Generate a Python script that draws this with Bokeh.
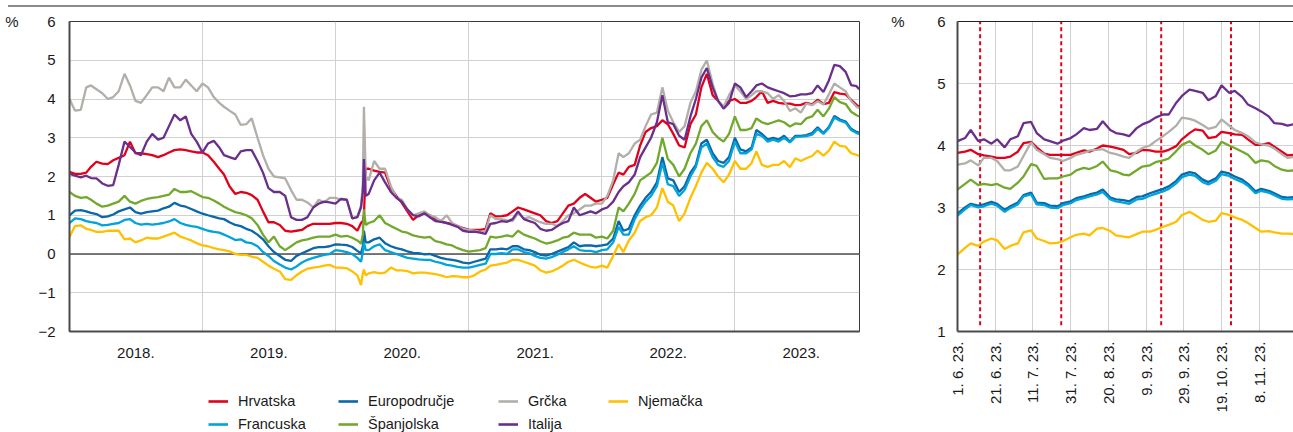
import math
import pandas as pd
from bokeh.plotting import figure
from bokeh.models import (FixedTicker, LinearAxis, Legend, LegendItem,
                          Span, Div, Range1d)
from bokeh.layouts import row, column
from bokeh.embed import file_html
from bokeh.resources import INLINE

# ------------------------------------------------------------------ data
def semi_monthly(y0, y1):
    return [f"{y}-{m:02d}-{d:02d}" for y in range(y0, y1 + 1)
            for m in range(1, 13) for d in (1, 16)]

# overview: 1st and 16th of each month, plus a few days around March 2020, ending 8 Dec 2023
overview_dates = sorted(semi_monthly(2018, 2023)[:-1]
                        + ["2020-03-11", "2020-03-19", "2020-03-24", "2023-12-08"])

hrvatska = [
    2.12, 2.07, 2.07, 2.10, 2.25, 2.38, 2.33, 2.32, 2.42, 2.48, 2.55, 2.90, 2.60, 2.60, 2.58, 2.55, 2.50, 2.55, 2.62, 2.68, 2.70, 2.68, 2.65, 2.62,
    2.62, 2.55, 2.38, 2.20, 2.05, 1.75, 1.55, 1.60, 1.58, 1.52, 1.40, 1.10, 0.82, 0.82, 0.75, 0.60, 0.58, 0.60, 0.62, 0.72, 0.78, 0.78, 0.78, 0.78,
    0.80, 0.80, 0.78, 0.72, 0.60, 0.80, 0.85, 1.00, 2.20, 2.20, 2.15, 2.12, 2.10, 1.70, 1.50, 1.32, 1.10, 0.88, 1.00, 1.05, 1.00, 0.90, 0.85, 0.80, 0.78, 0.72, 0.67,
    0.63, 0.62, 0.62, 0.65, 1.05, 0.97, 0.98, 1.00, 1.10, 1.20, 1.15, 1.10, 1.05, 1.00, 0.85, 0.80, 0.85, 1.05, 1.25, 1.30, 1.45, 1.55, 1.45, 1.35,
    1.40, 1.45, 1.80, 2.10, 2.05, 2.25, 2.30, 2.80, 3.15, 3.25, 3.30, 3.45, 3.35, 3.10, 2.80, 2.75, 3.35, 3.60, 4.30, 4.65, 4.10, 3.95, 3.80, 3.95,
    4.00, 3.90, 3.90, 3.95, 4.05, 4.20, 3.90, 3.95, 3.90, 3.88, 3.88, 3.84, 3.85, 3.90, 3.86, 3.98, 3.87, 3.90, 4.18, 4.14, 4.12, 3.98, 3.85, 3.80]
italija = [
    2.07, 2.02, 1.98, 2.02, 1.96, 1.95, 1.82, 1.76, 1.78, 2.30, 2.90, 2.76, 2.62, 2.55, 2.90, 3.10, 2.95, 3.00, 3.30, 3.60, 3.45, 3.55, 3.10, 2.90,
    2.62, 2.85, 2.92, 2.75, 2.55, 2.50, 2.45, 2.65, 2.68, 2.68, 2.40, 2.10, 1.70, 1.60, 1.60, 1.50, 0.95, 0.88, 0.88, 0.95, 1.20, 1.30, 1.35, 1.33,
    1.30, 1.42, 1.40, 0.92, 0.95, 1.20, 1.60, 2.45, 1.50, 1.55, 1.90, 2.10, 1.85, 1.60, 1.45, 1.35, 1.15, 1.00, 0.97, 1.05, 0.95, 0.85, 0.83, 0.80, 0.75, 0.70, 0.60,
    0.57, 0.58, 0.55, 0.52, 0.78, 0.80, 0.85, 0.83, 0.90, 1.10, 0.90, 0.85, 0.80, 0.65, 0.60, 0.62, 0.72, 0.80, 0.85, 1.20, 1.00, 1.05, 1.10, 1.05,
    1.15, 1.20, 1.35, 1.60, 1.75, 1.85, 2.05, 2.50, 2.75, 3.00, 3.40, 4.10, 3.40, 3.35, 3.05, 2.95, 3.55, 4.00, 4.55, 4.80, 4.30, 3.95, 3.75, 3.90,
    4.40, 4.30, 4.05, 4.20, 4.35, 4.40, 4.30, 4.25, 4.20, 4.15, 4.07, 4.08, 4.12, 4.12, 4.15, 4.35, 4.18, 4.48, 4.88, 4.85, 4.70, 4.36, 4.33, 4.25]
grcka = [
    4.00, 3.70, 3.72, 4.30, 4.35, 4.25, 4.15, 4.00, 4.05, 4.20, 4.65, 4.35, 3.95, 3.90, 4.10, 4.30, 4.30, 4.20, 4.55, 4.30, 4.30, 4.50, 4.35, 4.20,
    4.40, 4.30, 4.05, 3.90, 3.80, 3.70, 3.60, 3.33, 3.35, 3.50, 3.00, 2.55, 2.20, 2.00, 1.98, 1.95, 1.65, 1.40, 1.40, 1.33, 1.20, 1.40, 1.33, 1.45,
    1.45, 1.40, 1.40, 0.92, 0.96, 1.25, 1.80, 3.80, 2.00, 1.90, 2.40, 2.20, 2.20, 1.75, 1.45, 1.40, 1.15, 1.00, 1.05, 1.10, 1.00, 0.95, 0.85, 1.00, 0.80, 0.72, 0.65,
    0.62, 0.60, 0.57, 0.60, 1.00, 0.90, 0.90, 0.87, 0.85, 1.05, 0.92, 0.95, 0.88, 0.82, 0.78, 0.78, 0.72, 0.85, 1.00, 1.05, 1.15, 1.25, 1.25, 1.30,
    1.30, 1.50, 1.90, 2.60, 2.50, 2.60, 2.85, 2.95, 3.30, 3.60, 3.65, 4.30, 3.70, 3.40, 3.15, 3.30, 3.90, 4.20, 4.75, 5.00, 4.40, 3.95, 3.80, 4.10,
    4.35, 4.20, 4.00, 4.10, 4.20, 4.20, 4.15, 4.00, 4.10, 3.95, 3.69, 3.76, 3.65, 3.88, 3.84, 3.94, 3.86, 4.12, 4.40, 4.30, 4.20, 3.95, 3.80, 3.76]
spanjolska = [
    1.60, 1.50, 1.45, 1.47, 1.40, 1.30, 1.22, 1.25, 1.30, 1.35, 1.50, 1.35, 1.30, 1.37, 1.42, 1.45, 1.47, 1.50, 1.53, 1.68, 1.60, 1.60, 1.62, 1.55,
    1.47, 1.45, 1.38, 1.30, 1.22, 1.15, 1.08, 1.05, 1.00, 0.92, 0.75, 0.50, 0.30, 0.45, 0.20, 0.10, 0.20, 0.30, 0.35, 0.38, 0.42, 0.45, 0.45, 0.45,
    0.50, 0.45, 0.47, 0.42, 0.35, 0.27, 0.50, 1.15, 0.75, 0.80, 0.85, 1.00, 0.80, 0.72, 0.65, 0.58, 0.55, 0.48, 0.45, 0.42, 0.44, 0.33, 0.30, 0.25, 0.22, 0.15, 0.10,
    0.06, 0.08, 0.10, 0.15, 0.45, 0.42, 0.45, 0.48, 0.45, 0.60, 0.50, 0.45, 0.40, 0.33, 0.27, 0.30, 0.35, 0.42, 0.45, 0.55, 0.50, 0.50, 0.50, 0.42,
    0.45, 0.40, 0.60, 1.20, 1.10, 1.30, 1.55, 1.90, 2.00, 2.10, 2.35, 3.00, 2.45, 2.30, 2.00, 2.20, 2.60, 2.85, 3.30, 3.45, 3.15, 3.00, 2.90, 3.10,
    3.55, 3.20, 3.20, 3.25, 3.50, 3.40, 3.35, 3.40, 3.45, 3.40, 3.29, 3.37, 3.35, 3.50, 3.55, 3.72, 3.55, 3.75, 4.05, 3.92, 3.87, 3.67, 3.58, 3.55]
europodrucje = [
    1.00, 1.12, 1.13, 1.10, 1.06, 1.03, 0.95, 0.97, 1.02, 1.10, 1.15, 1.20, 1.08, 1.04, 1.08, 1.10, 1.12, 1.18, 1.22, 1.32, 1.25, 1.22, 1.16, 1.10,
    1.04, 1.00, 0.96, 0.92, 0.90, 0.82, 0.75, 0.72, 0.65, 0.60, 0.50, 0.38, 0.20, 0.05, -0.05, -0.15, -0.18, -0.05, 0.02, 0.08, 0.15, 0.18, 0.18, 0.20,
    0.25, 0.24, 0.23, 0.18, 0.08, 0.02, 0.20, 0.60, 0.30, 0.30, 0.38, 0.42, 0.28, 0.20, 0.15, 0.12, 0.07, 0.03, 0.02, -0.01, 0.00, -0.05, -0.10, -0.13, -0.15, -0.18, -0.22,
    -0.24, -0.20, -0.16, -0.12, 0.12, 0.12, 0.14, 0.12, 0.20, 0.20, 0.12, 0.10, 0.05, -0.02, -0.04, 0.00, 0.06, 0.12, 0.18, 0.30, 0.20, 0.22, 0.22, 0.20,
    0.22, 0.25, 0.40, 0.85, 0.60, 0.65, 1.00, 1.25, 1.45, 1.60, 1.85, 2.50, 1.95, 1.90, 1.60, 1.75, 2.10, 2.30, 2.85, 2.95, 2.60, 2.40, 2.35, 2.50,
    3.00, 2.70, 2.65, 2.75, 3.20, 3.10, 2.95, 3.00, 2.95, 3.05, 2.90, 3.05, 3.05, 3.07, 3.12, 3.27, 3.12, 3.28, 3.56, 3.47, 3.42, 3.23, 3.15, 3.13]
francuska = [
    0.80, 0.92, 0.90, 0.85, 0.82, 0.80, 0.74, 0.75, 0.78, 0.80, 0.88, 0.90, 0.80, 0.76, 0.78, 0.76, 0.78, 0.80, 0.84, 0.90, 0.80, 0.75, 0.72, 0.70,
    0.65, 0.60, 0.57, 0.55, 0.50, 0.44, 0.36, 0.38, 0.30, 0.28, 0.20, 0.05, -0.05, -0.18, -0.27, -0.35, -0.40, -0.32, -0.22, -0.15, -0.10, -0.06, -0.02, 0.00,
    0.10, 0.08, 0.05, 0.00, -0.10, -0.20, 0.05, 0.30, 0.10, 0.10, 0.20, 0.25, 0.10, 0.05, 0.00, -0.05, -0.10, -0.12, -0.14, -0.15, -0.15, -0.20, -0.23, -0.28, -0.30, -0.33, -0.35,
    -0.35, -0.32, -0.28, -0.25, 0.00, 0.00, 0.02, 0.00, 0.12, 0.12, 0.05, 0.02, -0.05, -0.10, -0.12, -0.08, -0.02, 0.05, 0.12, 0.20, 0.10, 0.08, 0.08, 0.05,
    0.10, 0.12, 0.30, 0.70, 0.50, 0.50, 0.90, 1.15, 1.35, 1.50, 1.75, 2.35, 1.80, 1.75, 1.50, 1.65, 2.00, 2.25, 2.75, 2.85, 2.50, 2.30, 2.25, 2.40,
    2.90, 2.60, 2.60, 2.70, 3.10, 3.05, 2.90, 2.95, 2.90, 3.00, 2.88, 3.02, 3.03, 3.04, 3.08, 3.23, 3.10, 3.25, 3.52, 3.44, 3.39, 3.20, 3.12, 3.10]
njemacka = [
    0.44, 0.72, 0.74, 0.65, 0.62, 0.57, 0.57, 0.60, 0.60, 0.60, 0.38, 0.40, 0.30, 0.35, 0.42, 0.40, 0.40, 0.45, 0.50, 0.55, 0.45, 0.40, 0.35, 0.28,
    0.22, 0.20, 0.15, 0.12, 0.10, 0.07, 0.00, -0.02, -0.02, -0.07, -0.10, -0.20, -0.30, -0.38, -0.45, -0.65, -0.67, -0.55, -0.45, -0.38, -0.35, -0.33, -0.30, -0.28,
    -0.35, -0.35, -0.37, -0.45, -0.55, -0.80, -0.50, -0.40, -0.55, -0.50, -0.47, -0.50, -0.48, -0.35, -0.42, -0.42, -0.44, -0.50, -0.48, -0.48, -0.50, -0.52, -0.55, -0.60, -0.57, -0.58, -0.60,
    -0.60, -0.55, -0.45, -0.40, -0.30, -0.28, -0.25, -0.22, -0.15, -0.15, -0.20, -0.25, -0.30, -0.42, -0.48, -0.45, -0.38, -0.30, -0.20, -0.15, -0.22, -0.28, -0.33, -0.35,
    -0.30, -0.35, -0.05, 0.25, 0.05, 0.35, 0.55, 0.85, 0.95, 1.00, 1.20, 1.70, 1.35, 1.25, 0.85, 1.05, 1.45, 1.75, 2.10, 2.35, 2.20, 2.00, 1.85, 2.05,
    2.40, 2.20, 2.20, 2.35, 2.65, 2.30, 2.25, 2.30, 2.30, 2.40, 2.24, 2.47, 2.40, 2.47, 2.53, 2.67, 2.54, 2.67, 2.90, 2.79, 2.77, 2.60, 2.56, 2.53]

# detail panel: 1 June 2023 onwards
detail_dates = [
    "2023-06-01", "2023-06-05", "2023-06-08", "2023-06-12", "2023-06-15", "2023-06-19", "2023-06-22", "2023-06-26", "2023-06-29",
    "2023-07-03", "2023-07-06", "2023-07-10", "2023-07-13", "2023-07-17", "2023-07-20", "2023-07-24", "2023-07-27", "2023-07-31",
    "2023-08-03", "2023-08-07", "2023-08-10", "2023-08-14", "2023-08-17", "2023-08-21", "2023-08-24", "2023-08-28", "2023-08-31",
    "2023-09-04", "2023-09-07", "2023-09-11", "2023-09-14", "2023-09-18", "2023-09-21", "2023-09-25", "2023-09-28",
    "2023-10-02", "2023-10-05", "2023-10-09", "2023-10-12", "2023-10-16", "2023-10-19", "2023-10-23", "2023-10-26", "2023-10-30",
    "2023-11-02", "2023-11-06", "2023-11-09", "2023-11-13", "2023-11-16", "2023-11-20", "2023-11-23", "2023-11-27", "2023-11-30",
    "2023-12-04", "2023-12-08"]
d_italija = [4.07, 4.12, 4.25, 4.07, 4.10, 4.03, 4.10, 3.97, 4.10, 4.15, 4.36, 4.38, 4.20, 4.10, 4.07, 4.03, 4.08, 4.12, 4.18, 4.28,
             4.25, 4.27, 4.39, 4.25, 4.20, 4.18, 4.15, 4.28, 4.34, 4.39, 4.45, 4.50, 4.50, 4.69, 4.80, 4.90, 4.88, 4.85, 4.73, 4.80,
             4.97, 4.85, 4.88, 4.78, 4.66, 4.60, 4.55, 4.47, 4.36, 4.35, 4.32, 4.35, 4.33, 4.30, 4.25]
d_hrvatska = [3.88, 3.90, 3.93, 3.86, 3.84, 3.82, 3.80, 3.80, 3.82, 3.90, 4.04, 4.06, 3.97, 3.87, 3.85, 3.85, 3.85, 3.85, 3.88, 3.92,
              3.90, 3.95, 4.00, 3.98, 3.96, 3.93, 3.86, 3.88, 3.93, 3.92, 3.90, 3.90, 3.93, 3.99, 4.10, 4.20, 4.26, 4.24, 4.12, 4.14,
              4.22, 4.20, 4.18, 4.17, 4.10, 4.01, 4.01, 4.04, 3.98, 3.90, 3.84, 3.85, 3.85, 3.83, 3.80]
d_grcka = [3.69, 3.71, 3.76, 3.68, 3.80, 3.80, 3.75, 3.60, 3.60, 3.66, 3.83, 4.05, 3.93, 3.86, 3.80, 3.78, 3.75, 3.80, 3.85, 3.88,
           3.92, 3.93, 3.94, 3.88, 3.86, 3.82, 3.80, 3.90, 3.96, 4.00, 4.07, 4.15, 4.22, 4.32, 4.45, 4.43, 4.40, 4.33, 4.27, 4.30,
           4.42, 4.32, 4.25, 4.20, 4.15, 4.05, 4.02, 4.00, 3.95, 3.86, 3.80, 3.82, 3.80, 3.78, 3.76]
d_spanjolska = [3.29, 3.38, 3.45, 3.36, 3.38, 3.36, 3.38, 3.32, 3.30, 3.40, 3.50, 3.70, 3.67, 3.46, 3.47, 3.47, 3.50, 3.53, 3.60, 3.64,
                3.62, 3.67, 3.74, 3.60, 3.58, 3.53, 3.52, 3.60, 3.66, 3.68, 3.73, 3.76, 3.79, 3.91, 4.01, 4.07, 4.00, 3.93, 3.86, 3.92,
                4.06, 4.00, 3.96, 3.90, 3.85, 3.72, 3.76, 3.74, 3.67, 3.61, 3.59, 3.60, 3.58, 3.56, 3.55]
d_europodrucje = [2.90, 3.00, 3.06, 3.03, 3.05, 3.09, 3.06, 2.96, 3.02, 3.08, 3.20, 3.24, 3.08, 3.07, 3.03, 3.02, 3.07, 3.10, 3.15, 3.18,
                  3.21, 3.24, 3.29, 3.16, 3.13, 3.12, 3.10, 3.17, 3.18, 3.23, 3.26, 3.30, 3.34, 3.43, 3.53, 3.57, 3.55, 3.45, 3.41, 3.47,
                  3.58, 3.55, 3.50, 3.45, 3.38, 3.26, 3.30, 3.27, 3.23, 3.17, 3.16, 3.17, 3.15, 3.15, 3.13]
d_francuska = [2.87, 2.97, 3.04, 3.00, 3.02, 3.06, 3.03, 2.93, 2.99, 3.05, 3.18, 3.21, 3.05, 3.04, 3.00, 2.99, 3.04, 3.07, 3.12, 3.15,
               3.18, 3.21, 3.25, 3.13, 3.10, 3.08, 3.06, 3.13, 3.14, 3.19, 3.22, 3.26, 3.30, 3.39, 3.49, 3.53, 3.51, 3.41, 3.37, 3.43,
               3.54, 3.51, 3.46, 3.41, 3.35, 3.23, 3.27, 3.24, 3.20, 3.14, 3.13, 3.14, 3.12, 3.12, 3.10]
d_njemacka = [2.24, 2.35, 2.42, 2.38, 2.45, 2.50, 2.47, 2.33, 2.38, 2.42, 2.60, 2.63, 2.50, 2.46, 2.42, 2.43, 2.46, 2.52, 2.56, 2.58,
              2.55, 2.66, 2.67, 2.62, 2.55, 2.53, 2.52, 2.57, 2.61, 2.61, 2.64, 2.69, 2.72, 2.77, 2.88, 2.93, 2.88, 2.80, 2.77, 2.79,
              2.91, 2.88, 2.84, 2.80, 2.75, 2.67, 2.61, 2.62, 2.60, 2.58, 2.58, 2.57, 2.56, 2.55, 2.53]

event_dates = ["2023-06-13", "2023-07-26", "2023-09-17", "2023-10-24"]
detail_tick_dates = ["2023-06-01", "2023-06-21", "2023-07-11", "2023-07-31", "2023-08-20",
                     "2023-09-09", "2023-09-29", "2023-10-19", "2023-11-08", "2023-11-28"]
detail_tick_labels = ["1. 6. 23.", "21. 6. 23.", "11. 7. 23.", "31. 7. 23.", "20. 8. 23.",
                      "9. 9. 23.", "29. 9. 23.", "19. 10. 23.", "8. 11. 23.", "28. 11. 23."]
years = [2018, 2019, 2020, 2021, 2022, 2023]

names = ["Hrvatska", "Europodručje", "Grčka", "Njemačka", "Francuska", "Španjolska", "Italija"]
colors = {"Hrvatska": "#e2001a", "Europodručje": "#0a67a8", "Grčka": "#b2afaa", "Njemačka": "#ffc000",
          "Francuska": "#00a3dc", "Španjolska": "#72a82c", "Italija": "#6a2f8c"}
overview = {"Hrvatska": hrvatska, "Europodručje": europodrucje, "Grčka": grcka, "Njemačka": njemacka,
            "Francuska": francuska, "Španjolska": spanjolska, "Italija": italija}
detail = {"Hrvatska": d_hrvatska, "Europodručje": d_europodrucje, "Grčka": d_grcka, "Njemačka": d_njemacka,
          "Francuska": d_francuska, "Španjolska": d_spanjolska, "Italija": d_italija}
legend_columns = [["Hrvatska", "Francuska"], ["Europodručje", "Španjolska"], ["Grčka", "Italija"], ["Njemačka"]]

for n in names:
    if len(overview[n]) != len(overview_dates):
        raise ValueError(f"overview {n}: {len(overview[n])} vs {len(overview_dates)}")
    if len(detail[n]) != len(detail_dates):
        raise ValueError(f"detail {n}: {len(detail[n])} vs {len(detail_dates)}")

# ------------------------------------------------------------------ style
FONT = "Liberation Sans"
FS = "15px"
TXT = "#1a1a1a"
GRID = "#d0d0d0"
AXC = "#4a4a4a"
LW = 2.3


def style_axis(ax):
    ax.axis_line_color = AXC
    ax.axis_line_width = 2
    ax.major_tick_line_color = None
    ax.minor_tick_line_color = None
    ax.major_tick_out = 0
    ax.major_tick_in = 0
    ax.minor_tick_out = 0
    ax.minor_tick_in = 0
    ax.major_label_text_font = FONT
    ax.major_label_text_font_size = FS
    ax.major_label_text_color = TXT


def unit_axis(top_value, standoff):
    """An extra left axis that only carries the '%' unit next to the top tick."""
    return LinearAxis(ticker=FixedTicker(ticks=[top_value]), major_label_overrides={top_value: "%"},
                      axis_line_color=None, major_tick_line_color=None, minor_tick_line_color=None,
                      major_tick_out=0, major_tick_in=0, minor_tick_out=0, minor_tick_in=0,
                      major_label_standoff=standoff, major_label_text_font=FONT,
                      major_label_text_font_size=FS, major_label_text_color=TXT)


# ------------------------------------------------------------------ overview chart
base = pd.Timestamp("2018-01-01")
ov_x = [(pd.Timestamp(d) - base).days for d in overview_dates]
year_starts = [(pd.Timestamp(f"{y}-01-01") - base).days for y in years + [2024]]
year_mid = [(a + b) // 2 for a, b in zip(year_starts[:-1], year_starts[1:])]
x_end = ov_x[-1] + 1

B1L = 69
p1 = figure(width=888, height=363, x_range=Range1d(0, x_end), y_range=Range1d(-2, 6),
            output_backend="svg", toolbar_location=None,
            min_border_left=B1L, min_border_right=29, min_border_top=14, min_border_bottom=39)
p1.outline_line_color = "#3a3a3a"
p1.outline_line_width = 1
p1.background_fill_color = "white"
p1.border_fill_color = "white"

style_axis(p1.xaxis[0])
p1.xaxis.ticker = FixedTicker(ticks=year_mid)
p1.xaxis.major_label_overrides = {m: f"{y}." for m, y in zip(year_mid, years)}
p1.xaxis.major_label_standoff = 16
p1.xgrid.ticker = FixedTicker(ticks=year_starts[1:-1])
p1.xgrid.grid_line_color = GRID

style_axis(p1.yaxis[0])
p1.yaxis.ticker = FixedTicker(ticks=list(range(-2, 7)))
p1.yaxis.major_label_overrides = {-1: "\u22121", -2: "\u22122"}
p1.yaxis.major_label_standoff = 14
p1.ygrid.grid_line_color = GRID
p1.add_layout(unit_axis(6, 17), "left")

p1.add_layout(Span(location=0, dimension="width", line_color="#505050", line_width=1.5, level="underlay"))

for n in names:
    p1.line(ov_x, overview[n], line_color=colors[n], line_width=LW)

# legend strip under the overview chart (legend samples use off-screen NaN lines)
lf = figure(width=888, height=62, x_range=Range1d(0, 1), y_range=Range1d(0, 1),
            x_axis_type=None, y_axis_type=None, output_backend="svg", toolbar_location=None,
            min_border=0, min_border_left=B1L, min_border_right=29, outline_line_color=None)
lf.background_fill_color = "white"
lf.border_fill_color = "white"
legend_glyphs = {n: lf.line([math.nan], [math.nan], line_color=colors[n], line_width=2.6) for n in names}
legend_x = [208 - B1L, 338 - B1L, 498 - B1L, 608 - B1L]
for cols, lx in zip(legend_columns, legend_x):
    leg = Legend(items=[LegendItem(label=n, renderers=[legend_glyphs[n]]) for n in cols],
                 location=(lx, -1 + 23 * (2 - len(cols))), orientation="vertical",
                 glyph_width=20, glyph_height=18, label_height=18, label_standoff=10,
                 spacing=5, padding=0, margin=0, border_line_color=None,
                 background_fill_alpha=0, label_text_font=FONT, label_text_font_size="14.5px",
                 label_text_color=TXT)
    lf.add_layout(leg, "center")

# ------------------------------------------------------------------ detail chart
d0 = pd.Timestamp(detail_dates[0])
dx = [(pd.Timestamp(d) - d0).days for d in detail_dates]
tick_x = [(pd.Timestamp(d) - d0).days for d in detail_tick_dates]
ev_x = [(pd.Timestamp(d) - d0).days for d in event_dates]
PX_PER_DAY = 38.17 / 20
W2, B2L = 405, 65
x2_end = (W2 - B2L) / PX_PER_DAY

p2 = figure(width=W2, height=425, x_range=Range1d(0, x2_end), y_range=Range1d(1, 6),
            output_backend="svg", toolbar_location=None,
            min_border_left=B2L, min_border_right=0, min_border_top=14, min_border_bottom=101)
p2.outline_line_color = None
p2.background_fill_color = "white"
p2.border_fill_color = "white"

style_axis(p2.xaxis[0])
p2.xaxis.ticker = FixedTicker(ticks=tick_x)
p2.xaxis.major_label_overrides = {t: s for t, s in zip(tick_x, detail_tick_labels)}
p2.xaxis.major_label_orientation = math.pi / 2
p2.xaxis.major_label_standoff = 10
p2.xgrid.ticker = FixedTicker(ticks=tick_x)
p2.xgrid.grid_line_color = GRID

style_axis(p2.yaxis[0])
p2.yaxis.ticker = FixedTicker(ticks=list(range(1, 7)))
p2.yaxis.major_label_standoff = 12
p2.ygrid.grid_line_color = GRID
p2.add_layout(unit_axis(6, 30), "left")

top_axis = LinearAxis(ticker=FixedTicker(ticks=[]), axis_line_color="#222222", axis_line_width=1,
                      major_tick_line_color=None, minor_tick_line_color=None,
                      major_tick_out=0, major_tick_in=0, minor_tick_out=0, minor_tick_in=0,
                      major_label_text_font_size="0px")
p2.add_layout(top_axis, "above")

p2.segment(x0=ev_x, y0=1.1, x1=ev_x, y1=6, line_color="#e2001a", line_width=2, line_dash="4 3")
for n in names:
    p2.line(dx, detail[n], line_color=colors[n], line_width=LW)

rule = Div(text="", width=1285, height=2, margin=(5, 0, 0, 8),
           styles={"background-color": "#8a8a8a"})
layout = column(rule, row(column(p1, lf), p2))

open("out.html", "w").write(file_html(layout, INLINE))
